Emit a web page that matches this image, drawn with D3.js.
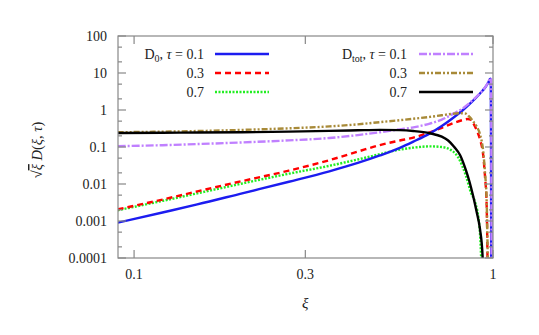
<!DOCTYPE html>
<html><head><meta charset="utf-8">
<script src="https://cdn.jsdelivr.net/npm/d3@7"></script>
<style>
body{margin:0;background:#fff;}
</style></head>
<body><svg id="c" width="539" height="335" font-family="Liberation Serif, DejaVu Serif, serif"></svg>
<script>
// ---- data ----
const xTickValues = [0.1, 0.3, 1];
const xTickLabels = ["0.1", "0.3", "1"];
const yTickValues = [100, 10, 1, 0.1, 0.01, 0.001, 0.0001];
const yTickLabels = ["100", "10", "1", "0.1", "0.01", "0.001", "0.0001"];

const xiD0t01 = [0.09,0.12,0.15,0.2,0.27,0.35,0.42,0.484,0.55,0.6,0.667,0.72,0.78,0.825,0.87,0.92,0.95,0.97,0.983,0.986,0.9875,0.989];
const d0t01   = [0.0009,0.0017,0.0028,0.0056,0.0115,0.022,0.037,0.059,0.095,0.14,0.234,0.37,0.65,1.0,1.6,2.8,4.0,5.5,7.0,6.5,0.1,0.00001];

const xiD0t03 = [0.09,0.12,0.15,0.2,0.27,0.35,0.42,0.484,0.55,0.6,0.667,0.72,0.78,0.82,0.85,0.87,0.88,0.9,0.92,0.94,0.95,0.96,0.968];
const d0t03   = [0.00207,0.0038,0.0063,0.012,0.023,0.044,0.075,0.113,0.15,0.18,0.25,0.33,0.45,0.53,0.57,0.54,0.45,0.29,0.16,0.055,0.016,0.0028,0.00001];

const xiD0t07 = [0.09,0.12,0.15,0.2,0.27,0.35,0.42,0.484,0.55,0.6,0.667,0.72,0.76,0.8,0.84,0.87,0.891,0.918,0.935];
const d0t07   = [0.00195,0.0035,0.0056,0.0103,0.019,0.031,0.046,0.064,0.085,0.096,0.104,0.1,0.085,0.052,0.017,0.0055,0.0033,0.0006,0.00001];

const xiDtt01 = [0.09,0.12,0.15,0.2,0.27,0.35,0.42,0.484,0.55,0.6,0.667,0.72,0.78,0.825,0.87,0.92,0.95,0.97,0.985,0.988,0.9895,0.991];
const dtott01 = [0.105,0.112,0.12,0.133,0.151,0.175,0.21,0.25,0.3,0.34,0.43,0.55,0.82,1.12,1.7,2.85,4.05,5.6,7.3,6.8,0.1,0.00001];

const xiDtt03 = [0.09,0.12,0.15,0.2,0.27,0.35,0.42,0.484,0.55,0.6,0.667,0.72,0.78,0.81,0.84,0.86,0.88,0.9,0.92,0.94,0.95,0.96,0.97];
const dtott03 = [0.25,0.26,0.27,0.29,0.32,0.36,0.41,0.47,0.53,0.58,0.65,0.72,0.8,0.82,0.8,0.65,0.5,0.36,0.22,0.07,0.02,0.0036,0.00001];

const xiDtt07 = [0.09,0.12,0.15,0.2,0.27,0.35,0.42,0.484,0.55,0.6,0.667,0.72,0.75,0.78,0.81,0.84,0.86,0.88,0.9,0.92,0.935,0.94];
const dtott07 = [0.24,0.243,0.246,0.25,0.26,0.272,0.283,0.29,0.285,0.27,0.235,0.19,0.15,0.1,0.06,0.024,0.0115,0.0048,0.0018,0.0006,0.00012,0.00001];

const legendValues = ["0.1","0.3","0.7"];

// ---- layout ----
const L = 118, R = 493, T = 36, B = 258;
const FONT = "'Liberation Serif', 'DejaVu Serif', serif";
const svg = d3.select("#c");
const x = d3.scaleLog().domain([0.0902, 1]).range([L, R]);
const y = d3.scaleLog().domain([0.0001, 100]).range([B, T]);

const series = [
  {xs: xiD0t01, ys: d0t01, color: "#1c1cf0", dash: null},
  {xs: xiD0t03, ys: d0t03, color: "#ff0000", dash: "6,4"},
  {xs: xiD0t07, ys: d0t07, color: "#22ee22", dash: "2,1.5"},
  {xs: xiDtt01, ys: dtott01, color: "#c080ff", dash: "8,2,2,2"},
  {xs: xiDtt03, ys: dtott03, color: "#a88a38", dash: "6,2,2,2,2,2"},
  {xs: xiDtt07, ys: dtott07, color: "#000000", dash: null}
];

svg.append("defs").append("clipPath").attr("id","clip")
  .append("rect").attr("x",L).attr("y",T).attr("width",R-L).attr("height",B-T);

const line = d3.line().x(d => x(d[0])).y(d => y(d[1])).curve(d3.curveMonotoneX);
const plot = svg.append("g").attr("clip-path","url(#clip)");
const order = [2,1,0,3,4,5];
order.forEach(i => {
  const s = series[i];
  plot.append("path")
    .datum(s.xs.map((v,k)=>[v, s.ys[k]]))
    .attr("d", line).attr("fill","none")
    .attr("stroke", s.color).attr("stroke-width", 2.4)
    .attr("stroke-dasharray", s.dash);
});

// ---- frame and ticks ----
const ax = svg.append("g").attr("stroke","#888").attr("stroke-width",1.2);
ax.append("rect").attr("x",L).attr("y",T).attr("width",R-L).attr("height",B-T).attr("fill","none");
const yMinor = [];
yTickValues.forEach(v => { if (v < 100) { yMinor.push(v*2, v*5); } });
yTickValues.forEach(v => {
  ax.append("line").attr("x1",L).attr("x2",L+8).attr("y1",y(v)).attr("y2",y(v));
  ax.append("line").attr("x1",R).attr("x2",R-8).attr("y1",y(v)).attr("y2",y(v));
});
yMinor.forEach(v => {
  ax.append("line").attr("x1",L).attr("x2",L+4).attr("y1",y(v)).attr("y2",y(v));
  ax.append("line").attr("x1",R).attr("x2",R-4).attr("y1",y(v)).attr("y2",y(v));
});
xTickValues.forEach(v => {
  ax.append("line").attr("x1",x(v)).attr("x2",x(v)).attr("y1",B).attr("y2",B-8);
  ax.append("line").attr("x1",x(v)).attr("x2",x(v)).attr("y1",T).attr("y2",T+8);
});

function txt(){ return svg.append("text").style("font-family", FONT).attr("fill","#222"); }

yTickValues.forEach((v,i) => {
  txt().attr("x",107).attr("y",y(v)).attr("dy","0.35em")
    .attr("text-anchor","end").attr("font-size",14).text(yTickLabels[i]);
});
xTickValues.forEach((v,i) => {
  txt().attr("x",x(v)).attr("y",279)
    .attr("text-anchor","middle").attr("font-size",14).text(xTickLabels[i]);
});
txt().attr("x",x(0.3)).attr("y",308).attr("text-anchor","middle")
  .attr("font-size",15).attr("font-style","italic").text("ξ");

const yl = txt().attr("transform","translate(42,150) rotate(-90)")
  .attr("text-anchor","middle").attr("font-size",14.5);
yl.append("tspan").text("√");
yl.append("tspan").attr("font-style","italic").style("text-decoration","overline").text("ξ");
yl.append("tspan").text(" ");
yl.append("tspan").attr("font-style","italic").text("D");
yl.append("tspan").text("(");
yl.append("tspan").attr("font-style","italic").text("ξ");
yl.append("tspan").text(", ");
yl.append("tspan").attr("font-style","italic").text("τ");
yl.append("tspan").text(")");

// ---- legend ----
const rowsY = [54, 73, 92];
function legendLabel(xr, yy, sub, first, val) {
  const t = txt().attr("x",xr).attr("y",yy).attr("dy","0.35em")
    .attr("text-anchor","end").attr("font-size",14);
  if (first) {
    t.append("tspan").text("D");
    t.append("tspan").attr("font-size",10).attr("dy",3).text(sub);
    t.append("tspan").attr("dy",-3).text(", ");
    t.append("tspan").attr("font-style","italic").text("τ");
    t.append("tspan").text(" = " + val);
  } else {
    t.text(val);
  }
}
[0,1,2].forEach(k => {
  legendLabel(204, rowsY[k], "0", k===0, legendValues[k]);
  legendLabel(407, rowsY[k], "tot", k===0, legendValues[k]);
  const s1 = series[k], s2 = series[k+3];
  svg.append("line").attr("x1",215).attr("x2",269).attr("y1",rowsY[k]).attr("y2",rowsY[k])
    .attr("stroke",s1.color).attr("stroke-width",2.4).attr("stroke-dasharray",s1.dash);
  svg.append("line").attr("x1",419).attr("x2",473).attr("y1",rowsY[k]).attr("y2",rowsY[k])
    .attr("stroke",s2.color).attr("stroke-width",2.4).attr("stroke-dasharray",s2.dash);
});
</script></body></html>
